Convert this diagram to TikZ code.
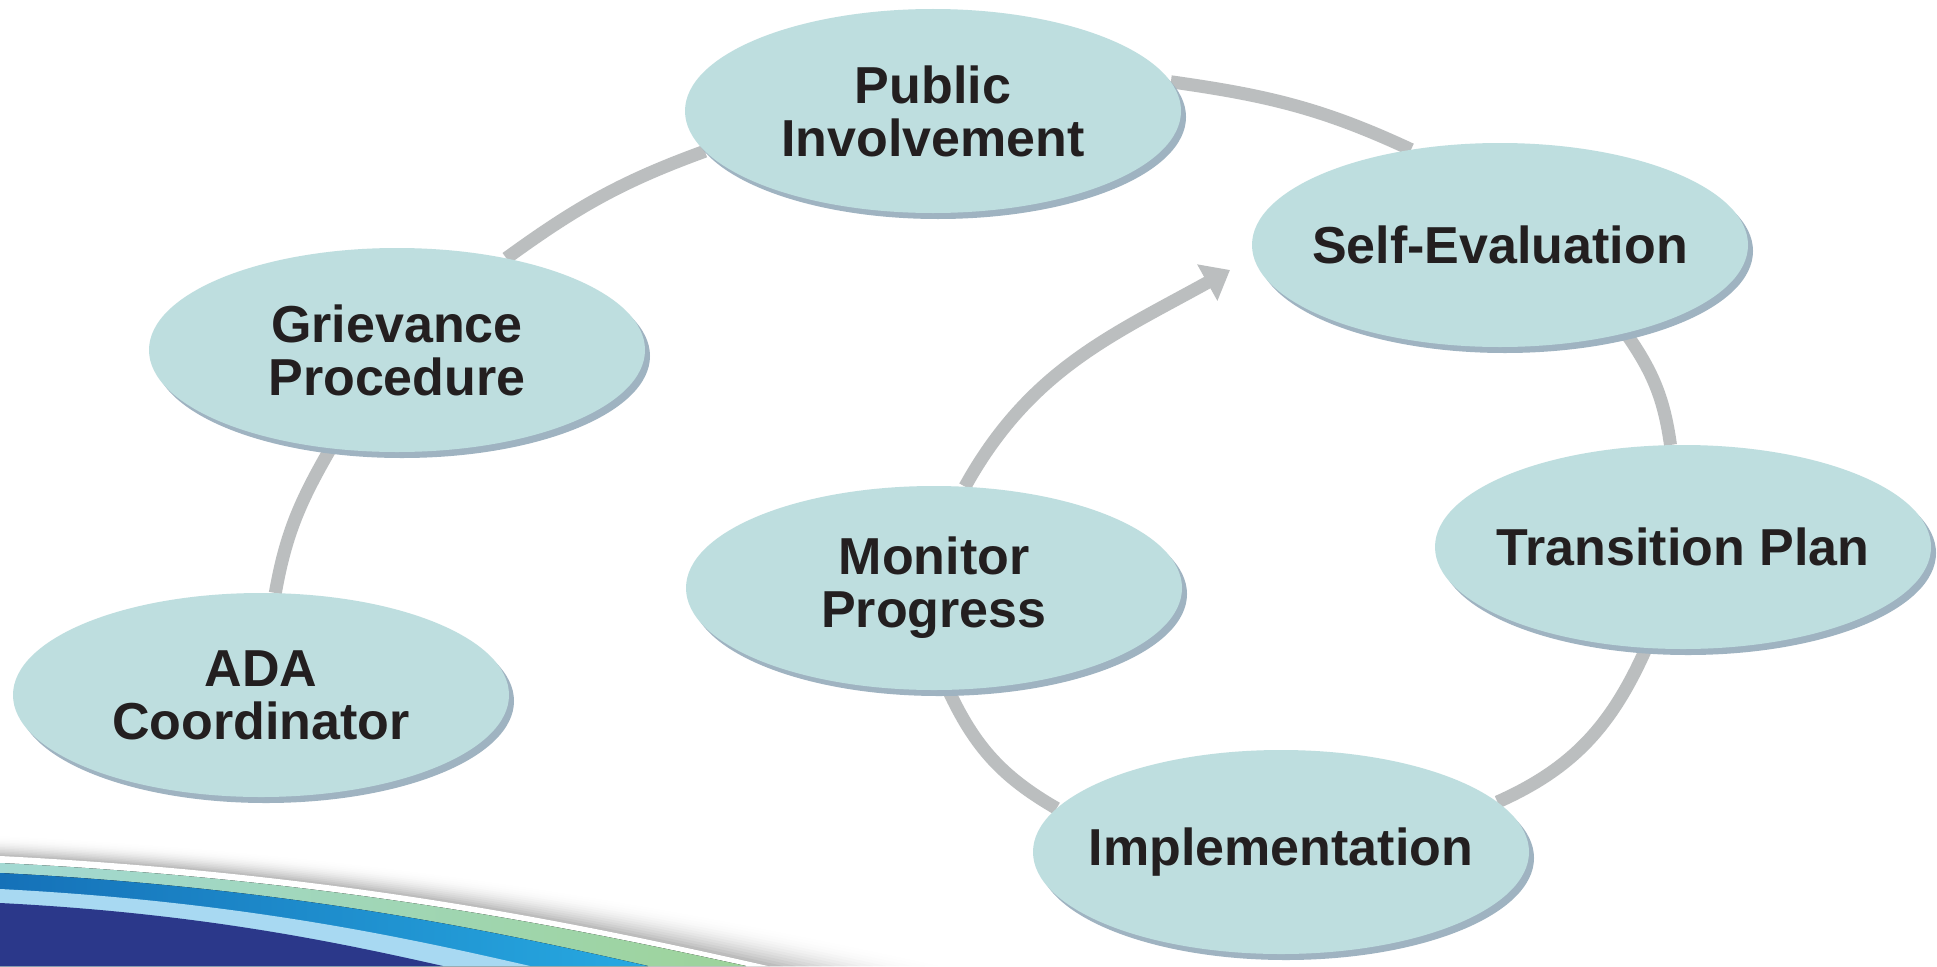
\documentclass[tikz,border=0pt]{standalone}
\usepackage{fontspec}
\setmainfont{Liberation Sans}
\usetikzlibrary{arrows.meta,shadows,shapes.geometric}

\definecolor{bubblefill}{HTML}{BEDEDF}
\definecolor{bubbleshade}{HTML}{9FB3C1}
\definecolor{linkgray}{HTML}{BBBEBF}
\definecolor{inkdark}{HTML}{231F20}
\definecolor{navyband}{HTML}{2B388A}
\definecolor{paleblue}{HTML}{A8D9F2}
\definecolor{blueA}{HTML}{1571B8}
\definecolor{blueB}{HTML}{27A9E1}
\definecolor{tealA}{HTML}{A3D9D3}
\definecolor{greenB}{HTML}{9DD39A}

\pgfdeclarelayer{back}
\pgfsetlayers{back,main}

% one swoosh band: fill options, left height, bottom crossing
\newcommand\swoosh[3]{%
  \fill[#1] (0,-#2) .. controls ({0.45*#3},{-(#2+0.16*(966-#2))})
    and ({0.76*#3},{-(#2+0.62*(966-#2))}) .. (#3,-966) -- (0,-966) -- cycle;}

\tikzset{
  bubble/.style={ellipse, fill=bubblefill, minimum width=496pt,
    minimum height=204pt, inner sep=0pt,
    general shadow={fill=bubbleshade, shadow xshift=5pt, shadow yshift=-6pt}},
  txt/.style={font=\fontsize{52}{53}\selectfont\bfseries, text=inkdark,
    align=center, inner sep=0pt},
  link/.style={draw=linkgray, line width=13pt},
}

\begin{document}
\begin{tikzpicture}[x=1pt,y=1pt]
\useasboundingbox (0,-966) rectangle (1937,0);

% stages
\node[bubble, label={[txt]center:Public\\Involvement}] (pi)  at (933,-111)  {};
\node[bubble, label={[txt]center:Self-Evaluation}]     (se)  at (1500,-245) {};
\node[bubble, label={[txt]center:Grievance\\Procedure}] (gp) at (397,-350)  {};
\node[bubble, label={[txt]center:Transition Plan}]     (tp)  at (1683,-547) {};
\node[bubble, label={[txt]center:Monitor\\Progress}]   (mp)  at (934,-588)  {};
\node[bubble, label={[txt]center:ADA\\Coordinator}]    (ada) at (261,-695)  {};
\node[bubble, label={[txt]center:Implementation}]      (im)  at (1281,-852) {};
\coordinate (tip) at (1230,-270);

\begin{pgfonlayer}{back}
  \fill[white] (0,-966) rectangle (1937,0);
  % soft grey shadow above the swoosh
  \foreach \i in {0,...,14}{
    \pgfmathsetmacro\st{\i/14}
    \pgfmathsetmacro\sy{835+21*\st}
    \pgfmathsetmacro\sx{950-180*\st}
    \pgfmathsetmacro\sk{30*\st*\st}
    \swoosh{black!\sk}{\sy}{\sx}
  }
  \swoosh{white}{856}{768}
  \swoosh{left color=tealA, right color=greenB}{863}{746}
  \swoosh{left color=blueA, right color=blueB}{873}{648}
  \swoosh{paleblue}{889}{530}
  \swoosh{navyband}{903}{443}

  % cycle connectors
  \draw[link] (ada.82)  to[out=80,  in=240] (gp.236);
  \draw[link] (gp.40)   to[out=36,  in=200] (pi.190);
  \draw[link] (pi.7)    to[out=-8,  in=155] (se.133);
  \draw[link] (se.-35)  to[out=-55, in=98]  (tp.97);
  \draw[link] (tp.250)  to[out=-114,in=24]  (im.13);
  \draw[link] (mp.278)  to[out=-65, in=150] (im.169);
  \draw[link, -{Triangle[width=40pt,length=26pt]}] (mp.73) to[out=61, in=209] (tip);
\end{pgfonlayer}
\end{tikzpicture}
\end{document}
